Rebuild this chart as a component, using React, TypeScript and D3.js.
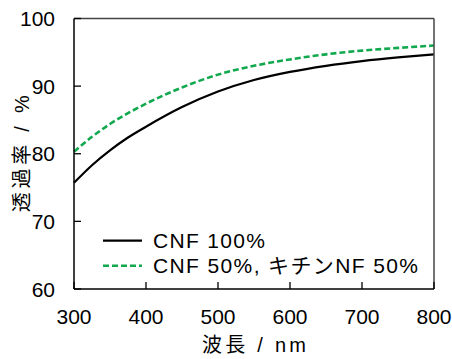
import React from "react";
import * as d3 from "d3";

const wavelengths = [300, 325, 350, 375, 400, 450, 500, 550, 600, 650, 700, 750, 800];
const cnf100 = [75.7, 78.3, 80.5, 82.4, 84.0, 86.9, 89.2, 90.9, 92.1, 93.0, 93.7, 94.25, 94.7];
const cnf50chitin50 = [80.3, 82.5, 84.4, 86.0, 87.4, 89.8, 91.7, 93.0, 93.95, 94.7, 95.25, 95.65, 96.0];
const xTicks = [300, 400, 500, 600, 700, 800];
const yTicks = [60, 70, 80, 90, 100];
const seriesNames = ["CNF 100%", "CNF 50%, キチンNF 50%"];
const xTitle = "波長 / nm";
const yTitle = "透過率 / %";

const W = 452, H = 359;
const L = 74, R = 434, T = 18.5, B = 289;
const FONT = "'Liberation Sans', Arial, 'Noto Sans CJK JP', sans-serif";

export default function App() {
  const x = d3.scaleLinear().domain([300, 800]).range([L, R]);
  const y = d3.scaleLinear().domain([60, 100]).range([B, T]);
  const line = d3.line<number>().x((_, i) => x(wavelengths[i])).y((d) => y(d)).curve(d3.curveMonotoneX);
  const green = "#12a84e";
  return (
    <svg width={W} height={H} style={{ position: "absolute", left: 0, top: 0, background: "#fff" }} fontFamily={FONT}>
      <path d={line(cnf100) || ""} fill="none" stroke="#000" strokeWidth={2.2} />
      <path d={line(cnf50chitin50) || ""} fill="none" stroke={green} strokeWidth={2.6} strokeDasharray="6,3" />
      {/* frame */}
      <line x1={L} y1={T} x2={R} y2={T} stroke="#444" strokeWidth={1.5} />
      <line x1={R} y1={T} x2={R} y2={B} stroke="#444" strokeWidth={1.5} />
      <line x1={L} y1={T} x2={L} y2={B} stroke="#000" strokeWidth={1.5} />
      <line x1={L} y1={B} x2={R} y2={B} stroke="#000" strokeWidth={1.5} />
      {yTicks.map((t) => (
        <g key={"y" + t}>
          <line x1={L} x2={L + 7} y1={y(t)} y2={y(t)} stroke="#000" strokeWidth={1.3} />
          <text x={L - 19} y={y(t)} dy="0.36em" textAnchor="end" fontSize={21}>{t}</text>
        </g>
      ))}
      {xTicks.map((t) => (
        <g key={"x" + t}>
          <line x1={x(t)} x2={x(t)} y1={B} y2={B - 7} stroke="#000" strokeWidth={1.3} />
          <text x={x(t)} y={324} textAnchor="middle" fontSize={21}>{t}</text>
        </g>
      ))}
      <text x={(L + R) / 2} y={352} textAnchor="middle" fontSize={20} textLength={104} lengthAdjust="spacing">{xTitle}</text>
      <text transform={`translate(29,${(T + B) / 2}) rotate(-90)`} textAnchor="middle" fontSize={20} textLength={117} lengthAdjust="spacing">{yTitle}</text>
      {/* legend */}
      <line x1={103} x2={142} y1={240.7} y2={240.7} stroke="#000" strokeWidth={2.2} />
      <text x={153} y={248} fontSize={21} textLength={112} lengthAdjust="spacing">{seriesNames[0]}</text>
      <line x1={103} x2={142} y1={265.7} y2={265.7} stroke={green} strokeWidth={2.6} strokeDasharray="6,3" />
      <text x={153} y={273} fontSize={21} textLength={265} lengthAdjust="spacing">{seriesNames[1]}</text>
    </svg>
  );
}
